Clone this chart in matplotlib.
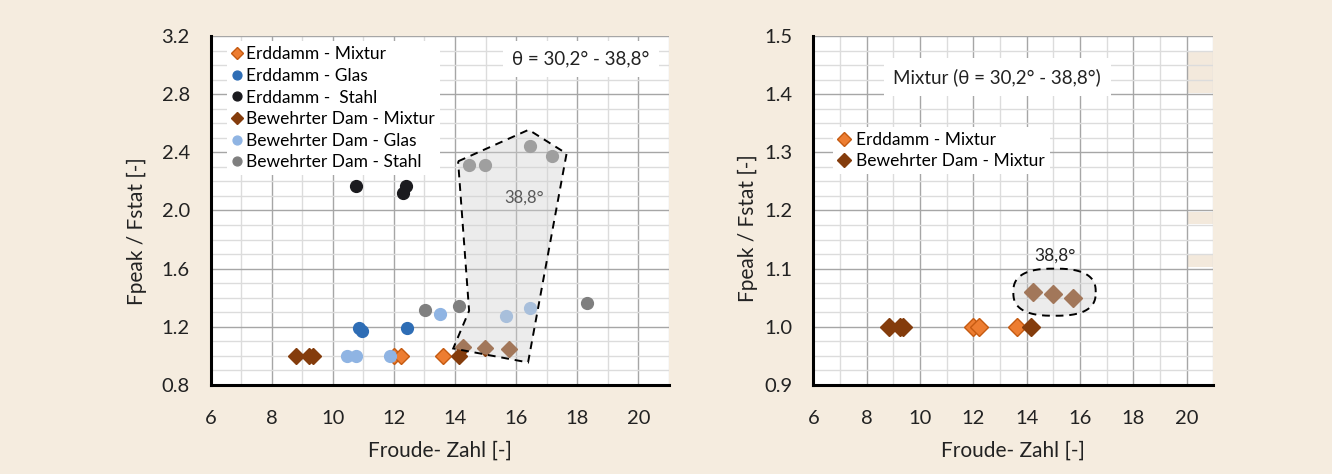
import numpy as np
import matplotlib
matplotlib.use("Agg")
import matplotlib.pyplot as plt
from matplotlib.patches import Polygon, Rectangle
from matplotlib.ticker import MultipleLocator, FormatStrFormatter

plt.rcParams['font.family'] = ['Lato', 'DejaVu Sans']

# ---------------- data (left chart) ----------------
erd_mix_x = [12.0, 12.22, 13.62]
erd_mix_y = [1.0, 1.0, 1.0]
erd_glas_x = [10.87, 10.94, 12.44]
erd_glas_y = [1.195, 1.173, 1.193]
erd_stahl_x = [10.75, 12.39, 12.31]
erd_stahl_y = [2.167, 2.167, 2.117]
bew_mix_x = [8.80, 9.21, 9.36, 14.13, 14.26, 14.98, 15.77]
bew_mix_y = [1.0, 1.0, 1.0, 1.0, 1.063, 1.054, 1.047]
bew_glas_x = [13.50, 15.66, 16.44, 10.46, 10.75, 11.86]
bew_glas_y = [1.289, 1.275, 1.330, 0.997, 0.997, 0.997]
bew_stahl_x = [14.45, 14.98, 16.46, 17.17, 13.02, 14.14, 18.32]
bew_stahl_y = [2.31, 2.315, 2.44, 2.377, 1.317, 1.344, 1.365]

# region of 38.8 degree tests (left)
poly_x = [14.10, 16.41, 17.65, 16.39, 13.94, 14.46]
poly_y = [2.338, 2.555, 2.391, 0.955, 1.051, 1.31]

# ---------------- data (right chart) ----------------
r_erd_mix_x = [12.0, 12.23, 13.63]
r_erd_mix_y = [1.0, 1.0, 1.0]
r_bew_mix_x = [8.84, 9.25, 9.38, 14.16, 14.25, 15.0, 15.75]
r_bew_mix_y = [1.0, 1.0, 1.0, 1.0, 1.060, 1.056, 1.049]

labels_left = ["Erddamm - Mixtur", "Erddamm - Glas", "Erddamm -  Stahl",
               "Bewehrter Dam - Mixtur", "Bewehrter Dam - Glas", "Bewehrter Dam - Stahl"]
labels_right = ["Erddamm - Mixtur", "Bewehrter Dam - Mixtur"]

BG = '#F5ECDF'
C_ORANGE = '#ED7D31'
C_ORANGE_E = '#C55A11'
C_BROWN = '#843C0C'
C_BLUE = '#2E6DB5'
C_BLACK = '#1B1B1F'
C_LBLUE = '#8FB4E3'
C_GREY = '#7F7F7F'
TXT = '#222222'

fig = plt.figure(figsize=(13.32, 4.74), dpi=100, facecolor=BG)

axL = fig.add_axes([0.1581, 0.1878, 0.3441, 0.7363])
axR = fig.add_axes([0.6106, 0.1878, 0.3003, 0.7363])

def style(ax, ymaj, ymin, ylab_xy):
    ax.set_facecolor('white')
    ax.set_xlim(6, 21)
    ax.xaxis.set_major_locator(MultipleLocator(2))
    ax.xaxis.set_minor_locator(MultipleLocator(1))
    ax.yaxis.set_major_locator(MultipleLocator(ymaj))
    ax.yaxis.set_minor_locator(MultipleLocator(ymin))
    ax.yaxis.set_major_formatter(FormatStrFormatter('%.1f'))
    ax.grid(which='major', color='#A6A6A6', lw=1.0, zorder=0)
    ax.grid(which='minor', color='#DCDCDC', lw=1.0, zorder=0)
    ax.set_axisbelow(True)
    for s in ['top', 'right']:
        ax.spines[s].set_visible(False)
    for s in ['left', 'bottom']:
        ax.spines[s].set_color('black')
        ax.spines[s].set_linewidth(2.2)
    ax.tick_params(which='both', length=0, labelsize=14.5, colors=TXT)
    ax.tick_params(axis='y', pad=15)
    ax.tick_params(axis='x', pad=18)
    ax.set_xlabel('Froude- Zahl [-]', fontsize=15, color=TXT, labelpad=10)
    ax.set_ylabel('Fpeak / Fstat [-]', fontsize=15, color=TXT)
    ax.yaxis.set_label_coords(*ylab_xy)
    ax.yaxis.label.set_verticalalignment('center')

style(axL, 0.4, 0.1, (-0.161, 0.44))
axL.set_ylim(0.8, 3.2)

style(axR, 0.1, 0.025, (-0.163, 0.45))
axR.set_ylim(0.9, 1.5)

ms = 8.5
msd = 8.0
kw = dict(linestyle='none', zorder=3)
axL.plot(erd_mix_x, erd_mix_y, marker='D', ms=msd, mfc=C_ORANGE, mec=C_ORANGE_E, mew=1, label=labels_left[0], **kw)
axL.plot(erd_glas_x, erd_glas_y, marker='o', ms=ms, mfc=C_BLUE, mec=C_BLUE, label=labels_left[1], **kw)
axL.plot(erd_stahl_x, erd_stahl_y, marker='o', ms=ms, mfc=C_BLACK, mec=C_BLACK, label=labels_left[2], **kw)
axL.plot(bew_mix_x, bew_mix_y, marker='D', ms=msd, mfc=C_BROWN, mec=C_BROWN, label=labels_left[3], **kw)
axL.plot(bew_glas_x, bew_glas_y, marker='o', ms=ms, mfc=C_LBLUE, mec=C_LBLUE, label=labels_left[4], **kw)
axL.plot(bew_stahl_x, bew_stahl_y, marker='o', ms=ms, mfc=C_GREY, mec=C_GREY, label=labels_left[5], **kw)

axL.add_patch(Polygon(np.column_stack([poly_x, poly_y]), closed=True, facecolor='#D0D0D0',
                      alpha=0.4, edgecolor='none', zorder=4))
axL.add_patch(Polygon(np.column_stack([poly_x, poly_y]), closed=True, facecolor='none',
                      edgecolor='black', lw=1.4, ls=(0, (4, 3)), zorder=5))
axL.text(16.25, 2.087, '38,8°', fontsize=12, color='#595959', ha='center', va='center', zorder=6)

leg = axL.legend(loc='upper left', bbox_to_anchor=(0.036, 0.985), frameon=True, fancybox=False,
                 edgecolor='none', facecolor='white', framealpha=1, fontsize=12.5,
                 handlelength=0.5, handletextpad=0.3, labelspacing=0.32, borderpad=0.3,
                 borderaxespad=0, markerscale=0.75)
leg.set_zorder(7)

axL.text(0.958, 0.934, 'θ = 30,2° - 38,8°', transform=axL.transAxes, fontsize=13.5,
         ha='right', va='center', color=TXT, zorder=8,
         bbox=dict(facecolor='white', edgecolor='none', pad=7))

# ---------------- right chart ----------------
for (x0, y0, y1) in [(20, 1.4, 1.475), (20, 1.175, 1.2), (20, 1.1, 1.125)]:
    axR.add_patch(Rectangle((x0 + 0.03, y0 + 0.002), 0.97, y1 - y0 - 0.004, facecolor='#F3E9DC',
                            edgecolor='none', zorder=0.5))

msr = 9
axR.plot(r_erd_mix_x, r_erd_mix_y, marker='D', ms=msr, mfc=C_ORANGE, mec=C_ORANGE_E, mew=1, label=labels_right[0], **kw)
axR.plot(r_bew_mix_x, r_bew_mix_y, marker='D', ms=msr, mfc=C_BROWN, mec=C_BROWN, label=labels_right[1], **kw)

# rounded outline around 38.8 deg points
cx, cy, a, b, n = 15.045, 1.0595, 1.545, 0.0405, 2.6
t = np.linspace(0, 2 * np.pi, 240)
ex = cx + a * np.sign(np.cos(t)) * np.abs(np.cos(t)) ** (2 / n)
ey = cy + b * np.sign(np.sin(t)) * np.abs(np.sin(t)) ** (2 / n)
axR.fill(ex, ey, facecolor='#D0D0D0', alpha=0.4, edgecolor='none', zorder=4)
axR.plot(ex, ey, color='black', lw=1.4, ls=(0, (4, 3)), zorder=5)
axR.text(15.06, 1.122, '38,8°', fontsize=12.5, color=TXT, ha='center', va='center', zorder=6)

legR = axR.legend(loc='upper left', bbox_to_anchor=(0.05, 0.74), frameon=True, fancybox=False,
                  edgecolor='none', facecolor='white', framealpha=1, fontsize=12.5,
                  handlelength=0.6, handletextpad=0.4, labelspacing=0.3, borderpad=0.3,
                  borderaxespad=0, markerscale=0.8)
legR.set_zorder(7)

axR.text(0.46, 0.883, 'Mixtur (θ = 30,2° - 38,8°)', transform=axR.transAxes, fontsize=13.5,
         ha='center', va='center', color=TXT, zorder=8,
         bbox=dict(facecolor='white', edgecolor='none', pad=7))

fig.savefig('out.png', dpi=100, facecolor=BG)
